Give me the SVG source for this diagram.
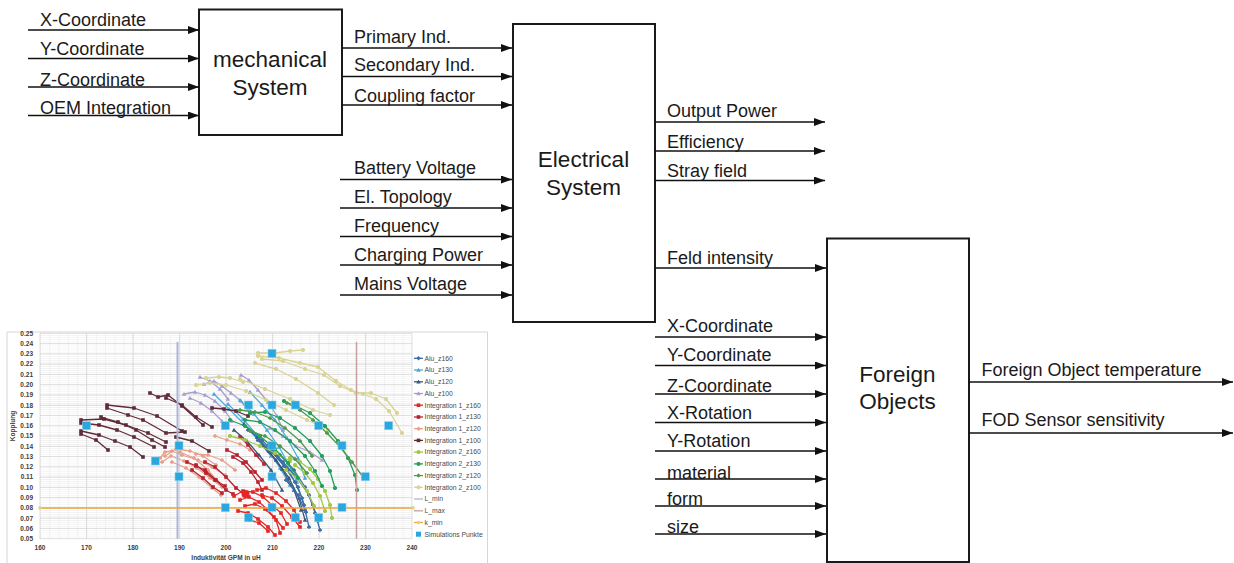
<svg xmlns="http://www.w3.org/2000/svg" width="1234" height="563" viewBox="0 0 1234 563">
  <style>
    .box { fill: #ffffff; stroke: #1a1a1a; stroke-width: 2; }
    .wire { stroke: #111111; stroke-width: 1.6; fill: none; marker-end: url(#arrow); }
    .lbl { font-family: "Liberation Sans", Arial, sans-serif; font-size: 18px; fill: #1a1a1a; }
    .title { font-family: "Liberation Sans", Arial, sans-serif; font-size: 22.5px; fill: #1a1a1a; text-anchor: middle; }
    .tick { font-family: "Liberation Sans", Arial, sans-serif; font-size: 6.5px; font-weight: bold; fill: #404040; }
    .axt { font-family: "Liberation Sans", Arial, sans-serif; font-size: 6.5px; font-weight: bold; fill: #404040; text-anchor: middle; }
    .leg { font-family: "Liberation Sans", Arial, sans-serif; font-size: 6.8px; fill: #4a4a4a; }
    .s { fill: none; stroke-width: 1.3; stroke-linejoin: round; }
    .alu160 { stroke: #3d6ea6; marker-start: url(#m-alu160); marker-mid: url(#m-alu160); marker-end: url(#m-alu160); }
    .alu130 { stroke: #4aa8dc; marker-start: url(#m-alu130); marker-mid: url(#m-alu130); marker-end: url(#m-alu130); }
    .alu120 { stroke: #3a5878; marker-start: url(#m-alu120); marker-mid: url(#m-alu120); marker-end: url(#m-alu120); }
    .alu100 { stroke: #a79ecf; marker-start: url(#m-alu100); marker-mid: url(#m-alu100); marker-end: url(#m-alu100); }
    .i1160 { stroke: #e32626; marker-start: url(#m-i1160); marker-mid: url(#m-i1160); marker-end: url(#m-i1160); }
    .i1130 { stroke: #b82230; marker-start: url(#m-i1130); marker-mid: url(#m-i1130); marker-end: url(#m-i1130); }
    .i1120 { stroke: #e8a08c; marker-start: url(#m-i1120); marker-mid: url(#m-i1120); marker-end: url(#m-i1120); }
    .i1100 { stroke: #5e2b38; marker-start: url(#m-i1100); marker-mid: url(#m-i1100); marker-end: url(#m-i1100); }
    .i2160 { stroke: #a0c84a; marker-start: url(#m-i2160); marker-mid: url(#m-i2160); marker-end: url(#m-i2160); }
    .i2130 { stroke: #24a05a; marker-start: url(#m-i2130); marker-mid: url(#m-i2130); marker-end: url(#m-i2130); }
    .i2120 { stroke: #4f9a4f; marker-start: url(#m-i2120); marker-mid: url(#m-i2120); marker-end: url(#m-i2120); }
    .i2100 { stroke: #d9d394; marker-start: url(#m-i2100); marker-mid: url(#m-i2100); marker-end: url(#m-i2100); }
    #legend .s { marker-start: none; marker-end: none; }
    .sim { fill: #2aa7df; stroke: #7fd0f0; stroke-width: 0.6; }
  </style>
  <defs>
    <marker id="arrow" markerUnits="userSpaceOnUse" markerWidth="11" markerHeight="8" viewBox="0 0 11 8" refX="11" refY="4" orient="auto">
      <path d="M0,0 L11,4 L0,8 z" fill="#111111"/>
    </marker>
    <!-- chart series point symbols -->
    <marker id="m-alu160" markerUnits="userSpaceOnUse" markerWidth="4.5" markerHeight="4.5" viewBox="0 0 10 10" refX="5" refY="5"><path d="M5,0 L10,5 L5,10 L0,5 z" fill="#3d6ea6"/></marker>
    <marker id="m-alu130" markerUnits="userSpaceOnUse" markerWidth="4.5" markerHeight="4.5" viewBox="0 0 10 10" refX="5" refY="5"><path d="M5,0 L10,9 L0,9 z" fill="#4aa8dc"/></marker>
    <marker id="m-alu120" markerUnits="userSpaceOnUse" markerWidth="4.5" markerHeight="4.5" viewBox="0 0 10 10" refX="5" refY="5"><path d="M5,0 L10,9 L0,9 z" fill="#3a5878"/></marker>
    <marker id="m-alu100" markerUnits="userSpaceOnUse" markerWidth="4.5" markerHeight="4.5" viewBox="0 0 10 10" refX="5" refY="5"><path d="M5,0 L10,9 L0,9 z" fill="#a79ecf"/></marker>
    <marker id="m-i1160" markerUnits="userSpaceOnUse" markerWidth="4.5" markerHeight="4.5" viewBox="0 0 10 10" refX="5" refY="5"><rect x="1" y="1" width="8" height="8" fill="#e32626"/></marker>
    <marker id="m-i1130" markerUnits="userSpaceOnUse" markerWidth="4.5" markerHeight="4.5" viewBox="0 0 10 10" refX="5" refY="5"><rect x="1" y="1" width="8" height="8" fill="#b82230"/></marker>
    <marker id="m-i1120" markerUnits="userSpaceOnUse" markerWidth="4.5" markerHeight="4.5" viewBox="0 0 10 10" refX="5" refY="5"><path d="M5,0 L10,5 L5,10 L0,5 z" fill="#e8a08c"/></marker>
    <marker id="m-i1100" markerUnits="userSpaceOnUse" markerWidth="4.5" markerHeight="4.5" viewBox="0 0 10 10" refX="5" refY="5"><rect x="1" y="1" width="8" height="8" fill="#5e2b38"/></marker>
    <marker id="m-i2160" markerUnits="userSpaceOnUse" markerWidth="4.5" markerHeight="4.5" viewBox="0 0 10 10" refX="5" refY="5"><circle cx="5" cy="5" r="4.5" fill="#a0c84a"/></marker>
    <marker id="m-i2130" markerUnits="userSpaceOnUse" markerWidth="4.5" markerHeight="4.5" viewBox="0 0 10 10" refX="5" refY="5"><circle cx="5" cy="5" r="4.5" fill="#24a05a"/></marker>
    <marker id="m-i2120" markerUnits="userSpaceOnUse" markerWidth="4.5" markerHeight="4.5" viewBox="0 0 10 10" refX="5" refY="5"><path d="M5,0 L10,5 L5,10 L0,5 z" fill="#4f9a4f"/></marker>
    <marker id="m-i2100" markerUnits="userSpaceOnUse" markerWidth="4.5" markerHeight="4.5" viewBox="0 0 10 10" refX="5" refY="5"><circle cx="5" cy="5" r="4.5" fill="#d9d394"/></marker>
    <marker id="m-kmin" markerUnits="userSpaceOnUse" markerWidth="4" markerHeight="4" viewBox="0 0 10 10" refX="5" refY="5"><circle cx="5" cy="5" r="4.5" fill="#d9d394"/></marker>
    <pattern id="minorgrid" patternUnits="userSpaceOnUse" x="40" y="333.3" width="9.3" height="2.054">
      <path d="M0.25,0 V2.054 M0,0.25 H9.3" stroke="#e6e6e6" stroke-width="0.5" fill="none"/>
    </pattern>
  </defs>

  <rect width="1234" height="563" fill="#ffffff"/>

  <!-- block nodes -->
  <g id="mechanical-system">
    <rect class="box" x="199" y="9.5" width="143" height="125.5"/>
    <text class="title" x="270" y="66.5">mechanical</text>
    <text class="title" x="270" y="95">System</text>
  </g>
  <g id="electrical-system">
    <rect class="box" x="513" y="24" width="142" height="298"/>
    <text class="title" x="583.5" y="166.5">Electrical</text>
    <text class="title" x="583.5" y="195">System</text>
  </g>
  <g id="foreign-objects">
    <rect class="box" x="827" y="238.5" width="142" height="323.5"/>
    <text class="title" x="897.5" y="381.5">Foreign</text>
    <text class="title" x="897.5" y="408.5">Objects</text>
  </g>

  <!-- signal connectors -->
  <g id="connectors">
    <line class="wire" x1="28" y1="30" x2="199" y2="30"/>
    <line class="wire" x1="28" y1="58.5" x2="199" y2="58.5"/>
    <line class="wire" x1="28" y1="87" x2="199" y2="87"/>
    <line class="wire" x1="28" y1="115.5" x2="199" y2="115.5"/>

    <line class="wire" x1="342" y1="48" x2="512" y2="48"/>
    <line class="wire" x1="342" y1="76.5" x2="512" y2="76.5"/>
    <line class="wire" x1="342" y1="105" x2="512" y2="105"/>

    <line class="wire" x1="340" y1="179.5" x2="512" y2="179.5"/>
    <line class="wire" x1="340" y1="208" x2="512" y2="208"/>
    <line class="wire" x1="340" y1="236.5" x2="512" y2="236.5"/>
    <line class="wire" x1="340" y1="265" x2="512" y2="265"/>
    <line class="wire" x1="340" y1="295" x2="512" y2="295"/>

    <line class="wire" x1="655" y1="122" x2="825" y2="122"/>
    <line class="wire" x1="655" y1="151" x2="825" y2="151"/>
    <line class="wire" x1="655" y1="180.5" x2="825" y2="180.5"/>

    <line class="wire" x1="655" y1="268" x2="826" y2="268"/>
    <line class="wire" x1="655" y1="337" x2="826" y2="337"/>
    <line class="wire" x1="655" y1="365.5" x2="826" y2="365.5"/>
    <line class="wire" x1="655" y1="394" x2="826" y2="394"/>
    <line class="wire" x1="655" y1="422.5" x2="826" y2="422.5"/>
    <line class="wire" x1="655" y1="451" x2="826" y2="451"/>
    <line class="wire" x1="655" y1="479" x2="826" y2="479"/>
    <line class="wire" x1="655" y1="506" x2="826" y2="506"/>
    <line class="wire" x1="655" y1="534" x2="826" y2="534"/>

    <line class="wire" x1="969" y1="382" x2="1233" y2="382"/>
    <line class="wire" x1="969" y1="433" x2="1233" y2="433"/>

    <!-- signal names -->
    <text class="lbl" x="40" y="26">X-Coordinate</text>
    <text class="lbl" x="40" y="54.5">Y-Coordinate</text>
    <text class="lbl" x="40" y="86">Z-Coordinate</text>
    <text class="lbl" x="40" y="113.5">OEM Integration</text>

    <text class="lbl" x="354" y="42.5">Primary Ind.</text>
    <text class="lbl" x="354" y="71">Secondary Ind.</text>
    <text class="lbl" x="354" y="102">Coupling factor</text>

    <text class="lbl" x="354" y="173.5">Battery Voltage</text>
    <text class="lbl" x="354" y="202.5">El. Topology</text>
    <text class="lbl" x="354" y="232">Frequency</text>
    <text class="lbl" x="354" y="260.5">Charging Power</text>
    <text class="lbl" x="354" y="290">Mains Voltage</text>

    <text class="lbl" x="667" y="116.5">Output Power</text>
    <text class="lbl" x="667" y="148">Efficiency</text>
    <text class="lbl" x="667" y="176.5">Stray field</text>

    <text class="lbl" x="667" y="263.5">Feld intensity</text>
    <text class="lbl" x="667" y="331.5">X-Coordinate</text>
    <text class="lbl" x="667" y="360.5">Y-Coordinate</text>
    <text class="lbl" x="667" y="391.5">Z-Coordinate</text>
    <text class="lbl" x="667" y="418.5">X-Rotation</text>
    <text class="lbl" x="667" y="447">Y-Rotation</text>
    <text class="lbl" x="667" y="479">material</text>
    <text class="lbl" x="667" y="505">form</text>
    <text class="lbl" x="667" y="533">size</text>

    <text class="lbl" x="981.5" y="376">Foreign Object temperature</text>
    <text class="lbl" x="981.5" y="426">FOD Sensor sensitivity</text>
  </g>

  <!-- coupling vs. inductance chart -->
  <g id="chart">
    <path d="M7,572 V332 H487.5 V572" fill="#ffffff" stroke="#d6d6d6" stroke-width="1"/>
    <rect x="40" y="333.3" width="372" height="205.4" fill="url(#minorgrid)"/>
    <path d="M40,333.3V538.7 M86.5,333.3V538.7 M133,333.3V538.7 M179.5,333.3V538.7 M226,333.3V538.7 M272.5,333.3V538.7 M319,333.3V538.7 M365.5,333.3V538.7 M412,333.3V538.7
             M40,333.3H412 M40,343.6H412 M40,353.8H412 M40,364.1H412 M40,374.4H412 M40,384.7H412 M40,394.9H412 M40,405.2H412 M40,415.5H412 M40,425.7H412 M40,436H412
             M40,446.3H412 M40,456.5H412 M40,466.8H412 M40,477.1H412 M40,487.4H412 M40,497.6H412 M40,507.9H412 M40,518.2H412 M40,528.4H412 M40,538.7H412"
          stroke="#d2d2d2" stroke-width="0.7" fill="none"/>

    <!-- axis labels -->
    <g class="tick" text-anchor="end">
      <text x="33" y="335.6">0.25</text><text x="33" y="345.9">0.24</text><text x="33" y="356.1">0.23</text><text x="33" y="366.4">0.22</text>
      <text x="33" y="376.7">0.21</text><text x="33" y="387">0.20</text><text x="33" y="397.2">0.19</text><text x="33" y="407.5">0.18</text>
      <text x="33" y="417.8">0.17</text><text x="33" y="428">0.16</text><text x="33" y="438.3">0.15</text><text x="33" y="448.6">0.14</text>
      <text x="33" y="458.8">0.13</text><text x="33" y="469.1">0.12</text><text x="33" y="479.4">0.11</text><text x="33" y="489.7">0.10</text>
      <text x="33" y="499.9">0.09</text><text x="33" y="510.2">0.08</text><text x="33" y="520.5">0.07</text><text x="33" y="530.7">0.06</text>
      <text x="33" y="541">0.05</text>
    </g>
    <g class="tick" text-anchor="middle">
      <text x="40" y="550">160</text><text x="86.5" y="550">170</text><text x="133" y="550">180</text><text x="179.5" y="550">190</text>
      <text x="226" y="550">200</text><text x="272.5" y="550">210</text><text x="319" y="550">220</text><text x="365.5" y="550">230</text>
      <text x="412" y="550">240</text>
    </g>
    <text class="axt" x="226" y="560">Induktivität GPM in uH</text>
    <text class="axt" x="0" y="0" transform="translate(15 426) rotate(-90)">Kopplung</text>

    <!-- Alu series -->
    <g class="s alu100">
      <polyline points="184,394 195,392 205,395 215,401 225,411 232,421"/>
      <polyline points="190,398 201,403 212,411 222,421"/>
      <polyline points="204,384 214,381 222,386 231,393 241,401 250,413"/>
      <polyline points="241,375 249,380 258,390 268,402 277,416 283,430"/>
      <polyline points="270,428 283,436 296,446 310,452 322,460"/>
      <polyline points="200,377 210,381 220,389 228,399"/>
    </g>
    <g class="s alu130">
      <polyline points="228,404 243,419 256,434 268,450 280,468 290,485"/>
      <polyline points="240,400 254,414 267,430 279,447 289,465 297,482"/>
      <polyline points="214,394 229,409 244,424 258,440 271,456"/>
      <polyline points="250,392 262,405 275,420 287,438 298,458 305,478"/>
    </g>
    <g class="s alu120">
      <polyline points="244,424 257,437 269,451 282,469 294,490 301,510"/>
      <polyline points="234,430 247,441 259,455 271,470 282,490"/>
      <polyline points="262,445 276,460 289,478 299,498 305,520"/>
    </g>
    <g class="s alu160">
      <polyline points="248,430 262,440 276,455 288,470 298,487 304,505"/>
      <polyline points="258,440 272,452 284,466 295,482 302,498 306,512"/>
      <polyline points="268,445 283,462 297,478 309,495 315,513 320,530"/>
      <polyline points="280,455 294,470 305,487 313,505 318,521"/>
      <polyline points="286,480 298,495 305,510 309,527"/>
    </g>

    <!-- Integration 1 series -->
    <g class="s i1100">
      <polyline points="107,405 134,408 157,416 182,431"/>
      <polyline points="107,408 128,415 143,420 166,433 185,432"/>
      <polyline points="81,420 104,419 126,425 148,433 166,442"/>
      <polyline points="81,423 99,425 117,430 134,437 154,447"/>
      <polyline points="101,417 118,422 136,430 152,440 165,447"/>
      <polyline points="81,431 99,435 115,441 130,447 143,457"/>
      <polyline points="81,434 96,440 108,450"/>
      <polyline points="150,393 158,397 168,395 182,406 203,425"/>
      <polyline points="166,398 182,405 196,417 212,427"/>
      <polyline points="212,408 224,409 236,411 248,416"/>
      <polyline points="176,437 192,441 209,451"/>
    </g>
    <g class="s i1120">
      <polyline points="160,458 165,452 172,451 182,455 198,460 212,467 225,475"/>
      <polyline points="162,462 171,456 184,461 197,468 210,478 222,487"/>
      <polyline points="165,456 176,449 190,451 203,456 216,465"/>
      <polyline points="172,462 186,468 199,477 212,488 221,495"/>
      <polyline points="215,436 227,440 240,444 250,450"/>
      <polyline points="180,452 194,458 208,470 218,482"/>
      <polyline points="196,454 208,455 222,460 235,470"/>
    </g>
    <g class="s i1130">
      <polyline points="187,462 196,466 205,470 216,480 226,490 233,494"/>
      <polyline points="192,470 203,478 213,487 222,493"/>
      <polyline points="196,465 206,473 215,480 225,486"/>
      <polyline points="227,450 237,455 246,462 255,472 262,480"/>
      <polyline points="233,457 243,463 251,472 258,482 262,490"/>
      <polyline points="205,462 215,467 226,477 236,488 245,495"/>
      <polyline points="240,437 248,445 256,455 264,464"/>
    </g>
    <g class="s i1160">
      <polyline points="234,496 243,491 253,492 263,497 272,505 281,513 287,524"/>
      <polyline points="240,500 249,497 259,502 268,510 276,520 280,533"/>
      <polyline points="245,506 255,504 265,509 274,517 283,528"/>
      <polyline points="238,511 248,513 258,519 268,527 275,535"/>
      <polyline points="257,490 266,488 276,493 286,501 294,510 300,522"/>
      <polyline points="250,520 259,523 268,531"/>
      <polyline points="262,495 272,498 282,506 292,517 300,527"/>
    </g>
    <circle cx="245.5" cy="494" r="4" fill="#e32626"/>

    <!-- Integration 2 series -->
    <g class="s i2100">
      <polyline points="258,353 275,353 290,351 303,350"/>
      <polyline points="258,356 279,358 300,363 318,367 336,381 351,390 363,394 376,399 389,411 402,433"/>
      <polyline points="262,359 283,361 305,369 324,375 340,386 356,393 371,393 386,399 397,413"/>
      <polyline points="255,363 276,369 296,379 318,393 334,405"/>
      <polyline points="240,379 265,389 290,399 313,410 330,415"/>
      <polyline points="206,378 219,377 230,378 243,382"/>
      <polyline points="196,385 210,383 226,385 246,391 266,400 286,410 307,420 328,430"/>
    </g>
    <g class="s i2160">
      <polyline points="290,458 300,462 310,469 318,479 325,491 330,505 332,518"/>
      <polyline points="295,465 305,473 313,483 320,496 325,511"/>
      <polyline points="286,470 297,478 307,491 314,506"/>
      <polyline points="230,436 245,440 260,446 275,453 290,461"/>
    </g>
    <g class="s i2130">
      <polyline points="250,413 265,412 280,418 295,428 310,441 322,456 330,471 335,488"/>
      <polyline points="245,420 260,422 275,430 290,441 305,456 315,471 322,486"/>
      <polyline points="230,420 245,426 260,436 275,449 288,463 298,478"/>
      <polyline points="284,401 298,407 310,413 325,426 338,441 348,458 355,475 357,490"/>
    </g>
    <g class="s i2120">
      <polyline points="287,403 300,410 313,420 327,433 340,447 352,462 363,477"/>
      <polyline points="240,410 255,412 270,418 285,428 300,441 312,456"/>
      <polyline points="250,431 265,436 280,446 295,459 307,473"/>
    </g>

    <!-- limit lines -->
    <line x1="177.5" y1="342" x2="177.5" y2="538.7" stroke="#aab6d6" stroke-width="2"/>
    <line x1="356.5" y1="342" x2="356.5" y2="538.7" stroke="#c8a0a0" stroke-width="1.5"/>
    <line x1="40" y1="507.9" x2="413" y2="507.9" stroke="#f3a33c" stroke-width="1.5" marker-start="url(#m-kmin)" marker-end="url(#m-kmin)"/>

    <!-- simulation points -->
    <g class="sim">
      <rect x="82.5" y="421.7" width="8" height="8"/>
      <rect x="151.3" y="457" width="8" height="8"/>
      <rect x="175" y="441.7" width="8" height="8"/>
      <rect x="175" y="472.7" width="8" height="8"/>
      <rect x="221.3" y="421.7" width="8" height="8"/>
      <rect x="221.3" y="503.7" width="8" height="8"/>
      <rect x="244.5" y="401" width="8" height="8"/>
      <rect x="244.5" y="513.7" width="8" height="8"/>
      <rect x="268" y="349.3" width="8" height="8"/>
      <rect x="268" y="401" width="8" height="8"/>
      <rect x="291.3" y="401" width="8" height="8"/>
      <rect x="314.7" y="421.7" width="8" height="8"/>
      <rect x="384.7" y="421.7" width="8" height="8"/>
      <rect x="268" y="441.7" width="8" height="8"/>
      <rect x="338" y="441.7" width="8" height="8"/>
      <rect x="268" y="472.7" width="8" height="8"/>
      <rect x="361.3" y="472.7" width="8" height="8"/>
      <rect x="268" y="503.3" width="8" height="8"/>
      <rect x="338" y="503.3" width="8" height="8"/>
      <rect x="291.3" y="513.7" width="8" height="8"/>
      <rect x="314.7" y="513.7" width="8" height="8"/>
    </g>

    <!-- legend -->
    <g id="legend">
      <polyline class="s alu160" points="414,358.3 418.5,358.3 423,358.3"/>
      <polyline class="s alu130" points="414,370 418.5,370 423,370"/>
      <polyline class="s alu120" points="414,381.8 418.5,381.8 423,381.8"/>
      <polyline class="s alu100" points="414,393.5 418.5,393.5 423,393.5"/>
      <polyline class="s i1160" points="414,405.2 418.5,405.2 423,405.2"/>
      <polyline class="s i1130" points="414,417 418.5,417 423,417"/>
      <polyline class="s i1120" points="414,428.7 418.5,428.7 423,428.7"/>
      <polyline class="s i1100" points="414,440.4 418.5,440.4 423,440.4"/>
      <polyline class="s i2160" points="414,452.1 418.5,452.1 423,452.1"/>
      <polyline class="s i2130" points="414,463.9 418.5,463.9 423,463.9"/>
      <polyline class="s i2120" points="414,475.6 418.5,475.6 423,475.6"/>
      <polyline class="s i2100" points="414,487.3 418.5,487.3 423,487.3"/>
      <line x1="414" y1="499" x2="423" y2="499" stroke="#aab6d6" stroke-width="1.3"/>
      <line x1="414" y1="510.8" x2="423" y2="510.8" stroke="#c8a0a0" stroke-width="1.3"/>
      <polyline points="414,522.5 418.5,522.5 423,522.5" fill="none" stroke="#f3a33c" stroke-width="1.3" marker-mid="url(#m-kmin)"/>
      <rect x="416" y="531.7" width="5" height="5" fill="#2aa7df"/>
      <g class="leg">
        <text x="424.5" y="360.6">Alu_z160</text>
        <text x="424.5" y="372.3">Alu_z130</text>
        <text x="424.5" y="384.1">Alu_z120</text>
        <text x="424.5" y="395.8">Alu_z100</text>
        <text x="424.5" y="407.5">Integration 1_z160</text>
        <text x="424.5" y="419.3">Integration 1_z130</text>
        <text x="424.5" y="431">Integration 1_z120</text>
        <text x="424.5" y="442.7">Integration 1_z100</text>
        <text x="424.5" y="454.4">Integration 2_z160</text>
        <text x="424.5" y="466.2">Integration 2_z130</text>
        <text x="424.5" y="477.9">Integration 2_z120</text>
        <text x="424.5" y="489.6">Integration 2_z100</text>
        <text x="424.5" y="501.3">L_min</text>
        <text x="424.5" y="513.1">L_max</text>
        <text x="424.5" y="524.8">k_min</text>
        <text x="424.5" y="536.5">Simulations Punkte</text>
      </g>
    </g>
  </g>
</svg>
